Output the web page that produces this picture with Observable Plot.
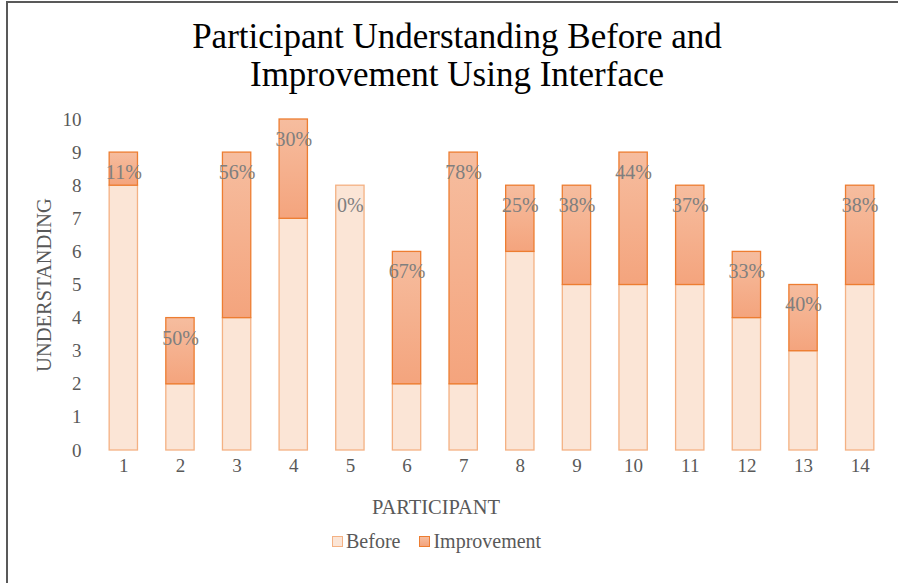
<!DOCTYPE html>
<html>
<head>
<meta charset="utf-8">
<script src="https://cdn.jsdelivr.net/npm/d3@7"></script>
<script src="https://cdn.jsdelivr.net/npm/@observablehq/plot@0.6"></script>
<style>
  html, body { margin: 0; padding: 0; background: #fff; }
  body { width: 898px; height: 583px; position: relative; overflow: hidden; font-family: "Liberation Serif", "Times New Roman", serif; }
  #frame { position: absolute; left: 6px; top: 1px; width: 1000px; height: 1000px; border-left: 2px solid #595959; border-top: 2px solid #595959; }
  #title { position: absolute; left: 0; top: 18px; width: 914px; text-align: center; font-size: 35px; line-height: 38px; color: #000; }
  #chart { position: absolute; left: 0; top: 100px; }
  #legend { position: absolute; top: 530px; left: 332px; font-size: 20px; color: #595959; display: flex; align-items: center; white-space: nowrap; }
  .sw { display: inline-block; width: 9px; height: 9px; margin-right: 3px; }
  .item { display: flex; align-items: center; margin-right: 19px; }
</style>
</head>
<body>
<div id="frame"></div>
<div id="title">Participant Understanding Before and<br>Improvement Using Interface</div>
<div id="chart"></div>
<div id="legend">
  <span class="item"><span class="sw" style="background:#fbe5d6;border:1px solid #f4b183"></span>Before</span>
  <span class="item"><span class="sw" style="background:linear-gradient(#f6bd9f,#f4a47d);border:1px solid #ed7d31"></span>Improvement</span>
</div>
<script>
const participants = ["1","2","3","4","5","6","7","8","9","10","11","12","13","14"];
const before = [8,2,4,7,8,2,2,6,5,5,5,4,3,5];
const improvement = [1,2,5,3,0,4,7,2,3,4,3,2,2,3];
const pctLabels = ["11%","50%","56%","30%","0%","67%","78%","25%","38%","44%","37%","33%","40%","38%"];
const yTicks = [0,1,2,3,4,5,6,7,8,9,10];

const rows = participants.map((p, i) => ({
  participant: p,
  before: before[i],
  improvement: improvement[i],
  total: before[i] + improvement[i],
  label: pctLabels[i]
}));

const font = "Liberation Serif, Times New Roman, serif";

const chart = Plot.plot({
  width: 898,
  height: 425,
  marginLeft: 95,
  marginRight: 10,
  marginTop: 19,
  marginBottom: 75,
  style: { fontFamily: font, fontSize: "19px", color: "#595959", background: "transparent" },
  x: { domain: participants, paddingInner: 0.5, paddingOuter: 0.25, round: false, label: null },
  y: { domain: [0, 10], label: null },
  marks: [
    Plot.gridY(yTicks, { stroke: "#d9d9d9", strokeOpacity: 1, strokeWidth: 1, x1: 97, x2: 887 }),
    Plot.axisY(yTicks, { tickSize: 0, tickPadding: 14, fill: "#595959", fontSize: 19, label: null }),
    Plot.axisX({ tickSize: 0, tickPadding: 8, fill: "#595959", fontSize: 19, label: null }),
    Plot.barY(rows, { x: "participant", y1: 0, y2: "before", fill: "#fbe5d6", stroke: "#f4b183", strokeWidth: 1.3 }),
    Plot.barY(rows.filter(d => d.improvement > 0), { x: "participant", y1: "before", y2: "total", fill: "url(#impGrad)", stroke: "#ed7d31", strokeWidth: 1.3 }),
    Plot.text(rows, { x: "participant", y: "total", text: "label", dy: 20, fill: "#7f7f7f", fontSize: 20 }),
    Plot.text(["UNDERSTANDING"], { frameAnchor: "left", textAnchor: "middle", lineAnchor: "middle", rotate: -90, dx: -51, fill: "#595959", fontSize: 20.5 }),
    Plot.text(["PARTICIPANT"], { frameAnchor: "bottom", textAnchor: "middle", lineAnchor: "middle", dx: -56, dy: 57, fill: "#595959", fontSize: 20.5 })
  ]
});

const ns = "http://www.w3.org/2000/svg";
const defs = document.createElementNS(ns, "defs");
const grad = document.createElementNS(ns, "linearGradient");
grad.setAttribute("id", "impGrad");
grad.setAttribute("x1", "0"); grad.setAttribute("y1", "0");
grad.setAttribute("x2", "0"); grad.setAttribute("y2", "1");
[["0%", "#f6bd9f"], ["100%", "#f4a47d"]].forEach(([o, c]) => {
  const s = document.createElementNS(ns, "stop");
  s.setAttribute("offset", o); s.setAttribute("stop-color", c);
  grad.appendChild(s);
});
defs.appendChild(grad);
chart.insertBefore(defs, chart.firstChild);

document.getElementById("chart").appendChild(chart);
</script>
</body>
</html>
